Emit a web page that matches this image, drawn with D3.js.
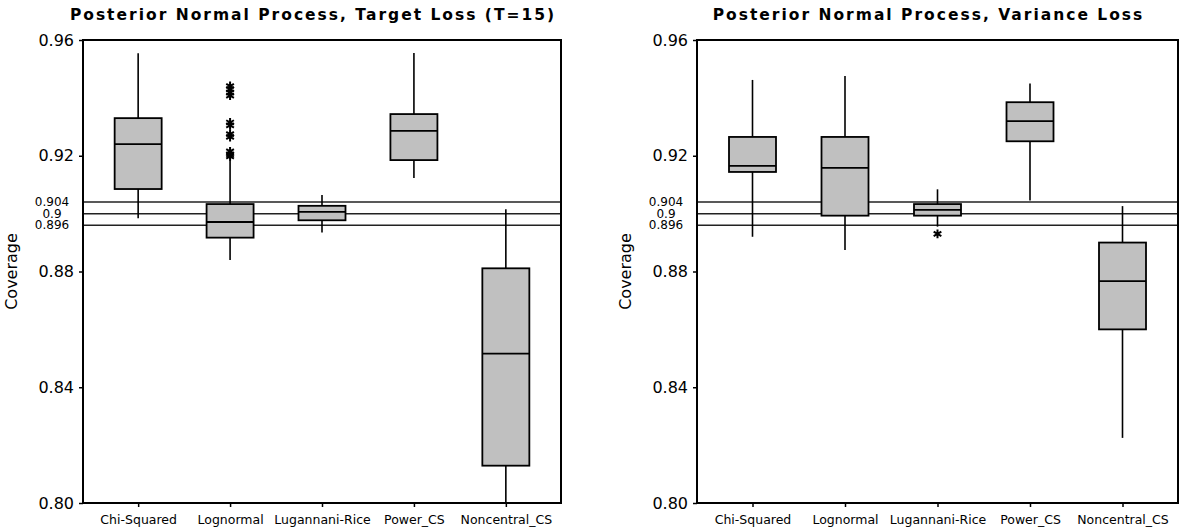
<!DOCTYPE html>
<html>
<head>
<meta charset="utf-8">
<script src="https://cdn.jsdelivr.net/npm/d3@7"></script>
<style>
  html, body { margin: 0; padding: 0; background: #fff; }
  svg { display: block; }
  text { font-family: "DejaVu Sans", Verdana, sans-serif; fill: #000; }
</style>
</head>
<body>
<svg id="chart" width="1179" height="531"></svg>
<script>
// Estimators compared in both panels
const categories = ["Chi-Squared", "Lognormal", "Lugannani-Rice", "Power_CS", "Noncentral_CS"];

// Panel 1: target loss (T=15) — box summaries of coverage
const targetLow    = [0.8984, 0.8840, 0.8935, 0.9123, 0.8000];
const targetQ1     = [0.9085, 0.8917, 0.8977, 0.9185, 0.8129];
const targetMedian = [0.9240, 0.8971, 0.9006, 0.9286, 0.8516];
const targetQ3     = [0.9330, 0.9033, 0.9027, 0.9344, 0.8811];
const targetHigh   = [0.9554, 0.9185, 0.9064, 0.9555, 0.9015];
const targetOutlierCat = ["Lognormal", "Lognormal", "Lognormal", "Lognormal", "Lognormal", "Lognormal",
                          "Lognormal", "Lognormal", "Lognormal", "Lognormal", "Lognormal"];
const targetOutlierVal = [0.9441, 0.9430, 0.9418, 0.9408, 0.9315, 0.9305, 0.9275, 0.9265, 0.9215, 0.9205, 0.9198];

// Panel 2: variance loss — box summaries of coverage
const varianceLow    = [0.8920, 0.8874, 0.8955, 0.9045, 0.8225];
const varianceQ1     = [0.9144, 0.8993, 0.8993, 0.9250, 0.8600];
const varianceMedian = [0.9165, 0.9158, 0.9013, 0.9320, 0.8767];
const varianceQ3     = [0.9265, 0.9265, 0.9033, 0.9385, 0.8900];
const varianceHigh   = [0.9462, 0.9476, 0.9084, 0.9450, 0.9026];
const varianceOutlierCat = ["Lugannani-Rice"];
const varianceOutlierVal = [0.8930];

// Axis ticks and nominal-coverage reference lines
const majorTicks = [0.80, 0.84, 0.88, 0.92, 0.96];
const refLines = [0.904, 0.9, 0.896];
const refLabels = ["0.904", "0.9", "0.896"];
const yDomain = [0.80, 0.96];

const titles = ["Posterior Normal Process, Target Loss (T=15)", "Posterior Normal Process, Variance Loss"];
const yTitle = "Coverage";

const svg = d3.select("#chart");

function buildBoxes(low, q1, med, q3, high) {
  return categories.map((c, i) => ({ cat: c, low: low[i], q1: q1[i], med: med[i], q3: q3[i], high: high[i] }));
}

const panels = [
  { left: 83, right: 561, title: titles[0],
    boxes: buildBoxes(targetLow, targetQ1, targetMedian, targetQ3, targetHigh),
    outliers: targetOutlierCat.map((c, i) => ({ cat: c, v: targetOutlierVal[i] })) },
  { left: 697, right: 1178, title: titles[1],
    boxes: buildBoxes(varianceLow, varianceQ1, varianceMedian, varianceQ3, varianceHigh),
    outliers: varianceOutlierCat.map((c, i) => ({ cat: c, v: varianceOutlierVal[i] })) }
];

const plotTop = 40, plotBottom = 503, boxW = 47;

panels.forEach(p => {
  const g = svg.append("g");
  const x = d3.scalePoint().domain(categories).range([p.left, p.right]).padding(0.6);
  const y = d3.scaleLinear().domain(yDomain).range([plotBottom, plotTop]);

  // title, centred slightly left of the frame centre
  g.append("text")
    .attr("x", (p.left + p.right) / 2 - 9).attr("y", 20)
    .attr("text-anchor", "middle")
    .attr("font-size", 15.5).attr("font-weight", "bold")
    .attr("letter-spacing", 2)
    .text(p.title);

  // y axis title
  g.append("text")
    .attr("transform", `translate(${p.left - 66},${(plotTop + plotBottom) / 2}) rotate(-90)`)
    .attr("text-anchor", "middle")
    .attr("font-size", 16)
    .text(yTitle);

  // reference lines
  g.selectAll(".ref").data(refLines).join("line")
    .attr("x1", p.left).attr("x2", p.right)
    .attr("y1", d => y(d)).attr("y2", d => y(d))
    .attr("stroke", "#222").attr("stroke-width", 1.5);

  g.selectAll(".reflab").data(refLines).join("text")
    .attr("x", p.left - 31).attr("y", d => y(d))
    .attr("dy", "0.35em")
    .attr("text-anchor", "middle")
    .attr("font-size", 12)
    .text((d, i) => refLabels[i]);

  // y axis (major ticks)
  const yAxis = g.append("g")
    .attr("transform", `translate(${p.left},0)`)
    .call(d3.axisLeft(y).tickValues(majorTicks).tickFormat(d3.format(".2f")).tickSize(4).tickPadding(5));
  yAxis.select(".domain").remove();
  yAxis.selectAll("text").attr("font-size", 16).attr("font-family", "DejaVu Sans, sans-serif").attr("fill", "#000");
  yAxis.selectAll("line").attr("stroke", "#000").attr("stroke-width", 1.5);

  // x axis (category ticks)
  const xAxis = g.append("g")
    .attr("transform", `translate(0,${plotBottom})`)
    .call(d3.axisBottom(x).tickSize(4).tickPadding(8));
  xAxis.select(".domain").remove();
  xAxis.selectAll("text").attr("font-size", 12.5).attr("font-family", "DejaVu Sans, sans-serif").attr("fill", "#000");
  xAxis.selectAll("line").attr("stroke", "#000").attr("stroke-width", 1.5);

  // whiskers
  const b = g.selectAll(".box").data(p.boxes).join("g");
  b.append("line")
    .attr("x1", d => x(d.cat)).attr("x2", d => x(d.cat))
    .attr("y1", d => y(d.high)).attr("y2", d => y(d.q3))
    .attr("stroke", "#000").attr("stroke-width", 1.6);
  b.append("line")
    .attr("x1", d => x(d.cat)).attr("x2", d => x(d.cat))
    .attr("y1", d => y(d.q1)).attr("y2", d => y(d.low))
    .attr("stroke", "#000").attr("stroke-width", 1.6);
  // box
  b.append("rect")
    .attr("x", d => x(d.cat) - boxW / 2).attr("width", boxW)
    .attr("y", d => y(d.q3)).attr("height", d => y(d.q1) - y(d.q3))
    .attr("fill", "#c0c0c0").attr("stroke", "#000").attr("stroke-width", 1.8);
  // median
  b.append("line")
    .attr("x1", d => x(d.cat) - boxW / 2).attr("x2", d => x(d.cat) + boxW / 2)
    .attr("y1", d => y(d.med)).attr("y2", d => y(d.med))
    .attr("stroke", "#000").attr("stroke-width", 1.8);

  // outliers
  const star = d3.symbol().type(d3.symbolAsterisk).size(55);
  g.selectAll(".out").data(p.outliers).join("path")
    .attr("transform", d => `translate(${x(d.cat)},${y(d.v)})`)
    .attr("d", star)
    .attr("fill", "none").attr("stroke", "#000").attr("stroke-width", 2);

  // frame
  g.append("rect")
    .attr("x", p.left).attr("y", plotTop)
    .attr("width", p.right - p.left).attr("height", plotBottom - plotTop)
    .attr("fill", "none").attr("stroke", "#000").attr("stroke-width", 2);
});
</script>
</body>
</html>
